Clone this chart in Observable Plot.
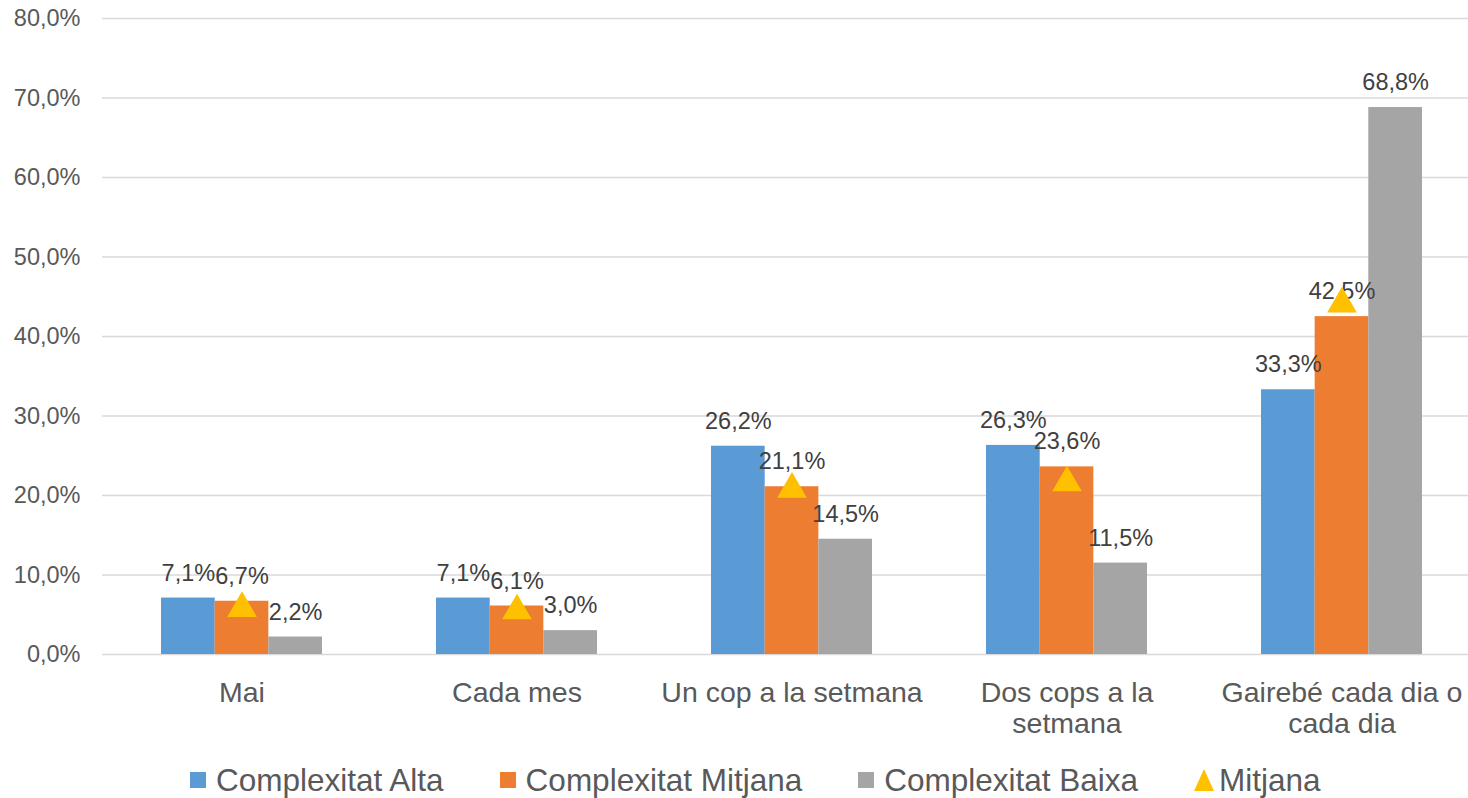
<!DOCTYPE html>
<html>
<head>
<meta charset="utf-8">
<script src="https://cdn.jsdelivr.net/npm/d3@7"></script>
<script src="https://cdn.jsdelivr.net/npm/@observablehq/plot@0.6"></script>
<style>
  html, body { margin: 0; padding: 0; background: #fff; }
  body { width: 1468px; height: 798px; overflow: hidden; font-family: "Liberation Sans", Arial, sans-serif; }
  #legend { display: flex; align-items: center; height: 46px; padding-left: 190px; font-size: 31.5px; color: #595959; box-sizing: border-box; padding-top: 10px; }
  .item { display: flex; align-items: center; margin-right: 56px; white-space: nowrap; }
  .sw { width: 16px; height: 16px; margin-right: 10px; }
  .tri { margin-right: 5px; }
</style>
</head>
<body>
<div id="chart"></div>
<div id="legend"></div>
<script>
// ---- data ----
const categories = ["Mai", "Cada mes", "Un cop a la setmana", "Dos cops a la setmana", "Gairebé cada dia o cada dia"];
const categoryLabels = ["Mai", "Cada mes", "Un cop a la setmana", "Dos cops a la\nsetmana", "Gairebé cada dia o\ncada dia"];
const seriesNames = ["Complexitat Alta", "Complexitat Mitjana", "Complexitat Baixa"];
const seriesColors = ["#5b9bd5", "#ed7d31", "#a5a5a5"];
const complexitatAlta = [7.1, 7.1, 26.2, 26.3, 33.3];
const complexitatMitjana = [6.7, 6.1, 21.1, 23.6, 42.5];
const complexitatBaixa = [2.2, 3.0, 14.5, 11.5, 68.8];
const mitjana = [6.3, 6.0, 21.3, 22.1, 44.6];
const mitjanaName = "Mitjana";
const mitjanaColor = "#ffc000";
const yTicks = [0, 10, 20, 30, 40, 50, 60, 70, 80];

const seriesValues = [complexitatAlta, complexitatMitjana, complexitatBaixa];
const fmt = v => v.toFixed(1).replace(".", ",") + "%";

const xRange = [102, 1480];
const padIn = 0.416, padOut = 0.208;
const bw = d3.scaleBand().domain(categories).range(xRange).paddingInner(padIn).paddingOuter(padOut).bandwidth();
const sub = bw / 3;

const font = '"Liberation Sans", Arial, sans-serif';

const marks = [
  Plot.ruleY(yTicks, {stroke: "#d9d9d9", strokeWidth: 1.5}),
  Plot.axisY({ticks: yTicks, tickSize: 0, tickPadding: 22, tickFormat: fmt, fontSize: 23.5, color: "#595959", label: null}),
  Plot.axisX({tickSize: 0, tickPadding: 25, tickFormat: d => categoryLabels[categories.indexOf(d)], fontSize: 28.5, color: "#595959", lineHeight: 1.1, label: null})
];

seriesValues.forEach((vals, i) => {
  marks.push(Plot.barY(categories, {
    x: d => d,
    y: (d, j) => vals[j],
    fill: seriesColors[i],
    insetLeft: i * sub,
    insetRight: (2 - i) * sub
  }));
});
seriesValues.forEach((vals, i) => {
  marks.push(Plot.text(categories, {
    x: d => d,
    y: (d, j) => vals[j],
    text: (d, j) => fmt(vals[j]),
    dx: (i - 1) * sub,
    dy: -25,
    fontSize: 23.5,
    fill: "#404040",
    lineAnchor: "middle"
  }));
});
marks.push(Plot.dot(categories, {
  x: d => d,
  y: (d, j) => mitjana[j],
  symbol: "triangle",
  r: 11,
  fill: mitjanaColor,
  stroke: "none",
  dy: 4
}));

const chart = Plot.plot({
  width: 1468,
  height: 752,
  marginLeft: 102,
  marginRight: 0,
  marginTop: 18,
  marginBottom: 98,
  x: {domain: categories, range: xRange, paddingInner: padIn, paddingOuter: padOut, axis: null},
  y: {domain: [0, 80], axis: null},
  style: {fontFamily: font, background: "#fff", overflow: "hidden"},
  marks
});
document.getElementById("chart").appendChild(chart);

// ---- legend ----
const legend = document.getElementById("legend");
seriesNames.forEach((name, i) => {
  const it = document.createElement("div");
  it.className = "item";
  const sw = document.createElement("span");
  sw.className = "sw";
  sw.style.background = seriesColors[i];
  it.appendChild(sw);
  it.appendChild(document.createTextNode(name));
  legend.appendChild(it);
});
const it = document.createElement("div");
it.className = "item";
it.innerHTML = `<svg class="tri" width="20" height="22" viewBox="0 0 20 22"><polygon points="10,0 20,22 0,22" fill="${mitjanaColor}"/></svg>`;
it.appendChild(document.createTextNode(mitjanaName));
legend.appendChild(it);
</script>
</body>
</html>
